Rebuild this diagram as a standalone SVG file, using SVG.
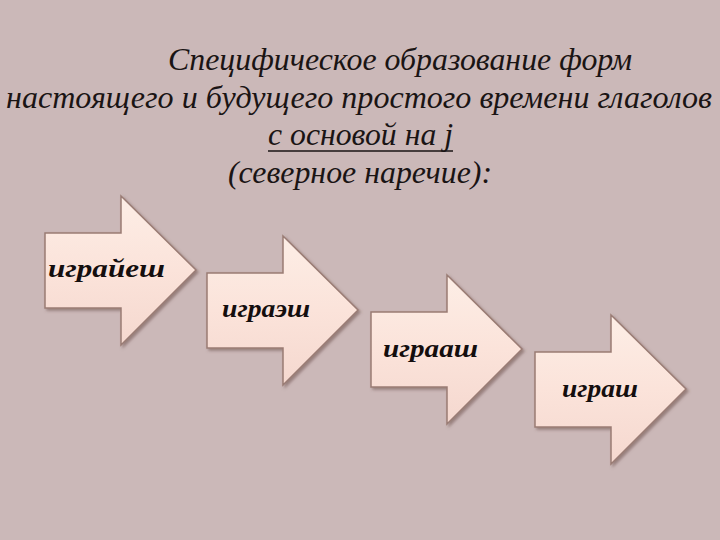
<svg xmlns="http://www.w3.org/2000/svg" width="720" height="540" viewBox="0 0 720 540">
<defs>
<style>
.title{font-family:"Liberation Serif","DejaVu Serif",serif;font-style:italic;font-size:31px;fill:#1a1414;}
.lbl{font-family:"Liberation Serif","DejaVu Serif",serif;font-style:italic;font-weight:bold;font-size:25px;fill:#140e0e;}
.arrow{fill:url(#ag);stroke:#9a7c74;stroke-width:1.5;filter:url(#sh);}
</style>
<linearGradient id="ag" x1="0" y1="0" x2="0" y2="1">
<stop offset="0" stop-color="#fdeee6"/>
<stop offset="0.5" stop-color="#fbe3da"/>
<stop offset="1" stop-color="#f5d8cf"/>
</linearGradient>
<filter id="sh" x="-10%" y="-10%" width="130%" height="130%">
<feGaussianBlur in="SourceAlpha" stdDeviation="1.5"/>
<feOffset dx="2" dy="2" result="b"/>
<feFlood flood-color="#6a4e48" flood-opacity="0.55"/>
<feComposite in2="b" operator="in"/>
<feMerge><feMergeNode/><feMergeNode in="SourceGraphic"/></feMerge>
</filter>
<path id="arr" d="M0,37 H76 V0 L151,74 L76,149 V112 H0 Z"/>
</defs>
<rect width="720" height="540" fill="#cbb8b8"/>
<g id="title">
<text class="title" x="168" y="70" textLength="464" lengthAdjust="spacingAndGlyphs">Специфическое образование форм</text>
<text class="title" x="6" y="108" textLength="706" lengthAdjust="spacingAndGlyphs">настоящего и будущего простого времени глаголов</text>
<text class="title" x="268" y="145" textLength="185" lengthAdjust="spacingAndGlyphs">с основой на j</text>
<line x1="268" y1="151" x2="453" y2="151" stroke="#1a1414" stroke-width="1.5"/>
<text class="title" x="228" y="183" textLength="264" lengthAdjust="spacingAndGlyphs">(северное наречие):</text>
</g>
<g id="a1">
<use href="#arr" class="arrow" transform="translate(45,196)"/>
<text class="lbl" x="48" y="277" textLength="117" lengthAdjust="spacingAndGlyphs">играйеш</text>
</g>
<g id="a2">
<use href="#arr" class="arrow" transform="translate(207,236)"/>
<text class="lbl" x="222" y="317" textLength="88" lengthAdjust="spacingAndGlyphs">играэш</text>
</g>
<g id="a3">
<use href="#arr" class="arrow" transform="translate(371,275)"/>
<text class="lbl" x="383" y="357" textLength="95" lengthAdjust="spacingAndGlyphs">играаш</text>
</g>
<g id="a4">
<use href="#arr" class="arrow" transform="translate(535,315)"/>
<text class="lbl" x="562" y="397" textLength="76" lengthAdjust="spacingAndGlyphs">играш</text>
</g>
<g id="connectors"></g>
</svg>
